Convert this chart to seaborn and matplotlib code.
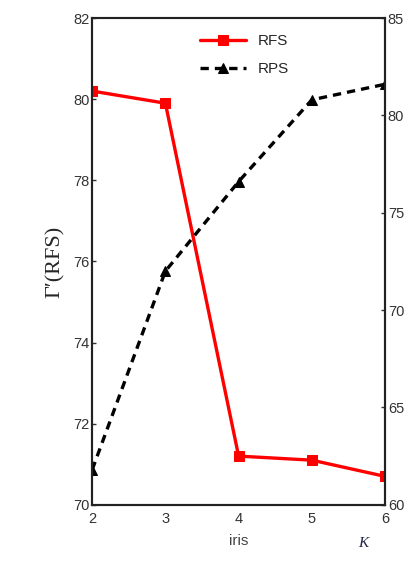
import matplotlib
matplotlib.use("Agg")
import matplotlib.pyplot as plt
import seaborn as sns
import pandas as pd

# --- DATA ---
k_values = [2, 3, 4, 5, 6]
rfs_values = [80.2, 79.9, 71.2, 71.1, 70.7]
rps_values = [61.8, 72.0, 76.6, 80.8, 81.6]

left_ticks = [70, 72, 74, 76, 78, 80, 82]
right_ticks = [60, 65, 70, 75, 80, 85]

sns.set_style("white")
plt.rcParams['font.family'] = ['Liberation Sans', 'DejaVu Sans']

df = pd.DataFrame({"k": k_values, "RFS": rfs_values, "RPS": rps_values})

fig = plt.figure(figsize=(4.19, 5.64), dpi=100)
ax = fig.add_axes([0.22, 0.105, 0.699, 0.863])
ax2 = ax.twinx()

sns.lineplot(data=df, x="k", y="RFS", ax=ax, color="#ff0000", linewidth=2.4,
             marker="s", markersize=6.5, markeredgecolor="#ff0000", label="RFS", legend=False)
sns.lineplot(data=df, x="k", y="RPS", ax=ax2, color="black", linewidth=2.4,
             linestyle=(0, (2.5, 1.8)), marker="^", markersize=7.5, markeredgecolor="black",
             label="RPS", legend=False)

ax.set_xlim(2, 6)
ax.set_ylim(70, 82)
ax2.set_ylim(60, 85)
ax.set_xticks(k_values)
ax.set_yticks(left_ticks)
ax2.set_yticks(right_ticks)

for a in (ax, ax2):
    a.tick_params(direction="in", length=3, width=1, labelsize=10.5, colors="#333333",
                  pad=2)
    for s in a.spines.values():
        s.set_color("#222222")
        s.set_linewidth(1.5)
ax.tick_params(axis="x", pad=5)
ax.spines["top"].set_color("#888888")

ax.set_xlabel("iris", fontsize=11, labelpad=6, color="#444444")
ax.set_ylabel("Γ′(RFS)", fontsize=16, family="Liberation Serif", labelpad=6)
ax2.set_ylabel("")

fig.text(0.855, 0.03, "K", fontsize=11, style="italic", color="#222244",
         family="Liberation Serif")

h1, l1 = ax.get_legend_handles_labels()
h2, l2 = ax2.get_legend_handles_labels()
ax.legend(h1 + h2, l1 + l2, loc="upper center", bbox_to_anchor=(0.52, 0.995),
          frameon=False, fontsize=11, handlelength=3, labelspacing=0.9)

fig.savefig("out.png", dpi=100)
